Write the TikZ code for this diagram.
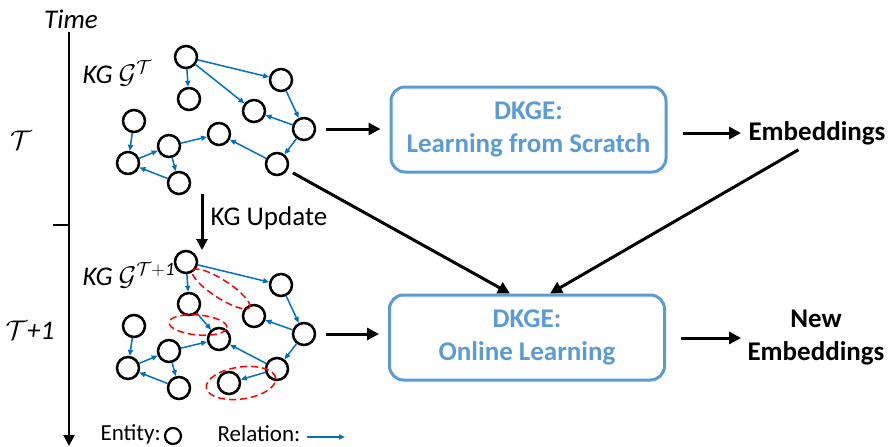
\RequirePackage{fix-cm}
\documentclass[tikz,border=0pt]{standalone}
\usepackage{fontspec}
\setmainfont{Carlito}
\usetikzlibrary{arrows.meta, positioning}
\definecolor{dkge_blue}{RGB}{91,155,213}
\definecolor{rel_blue}{RGB}{0,112,192}
\newcommand{\bigtext}{\fontsize{27}{33}\selectfont}

\tikzset{
  entity/.style={circle, draw=black, line width=2.5pt, minimum size=22pt, inner sep=0pt},
  rel/.style={rel_blue, line width=1.5pt, -{Triangle[length=6pt,width=5pt]}},
  flow/.style={line width=3pt, -{Triangle[length=12pt,width=12pt]}},
  dkgebox/.style={draw=dkge_blue, line width=3pt, rounded corners=14pt,
    minimum width=275pt, minimum height=85pt, align=center, text=dkge_blue, font=\bigtext\bfseries},
  removed/.style={red, line width=1.5pt, dash pattern=on 7pt off 4pt},
  legendtext/.style={anchor=west, font=\fontsize{23}{27}\selectfont}
}

\begin{document}
\begin{tikzpicture}[x=10pt, y=-10pt, font=\bigtext]

      \useasboundingbox (0,0) rectangle (88.9,44.7);

      % 1. Eje del tiempo
      \node (time) at (7.1,1.9) {\textit{Time}};
      \coordinate (axtop) at (6.9,3.2);
      \coordinate (axbot) at (6.9,44.6);
      \draw[line width=2.5pt, -{Triangle[length=11pt,width=11pt]}] (axtop) -- (axbot);
      \draw[line width=2.5pt] (5.3,22.5) -- (6.9,22.5);
      \node (tnow) at (2.1,14.0) {$\mathcal{T}$};
      \node (tnext) at (3.0,33.0) {$\mathcal{T}$\textit{+1}};

      % 2. KG en T
      \node[anchor=west] (kgold) at (7.9,7.3) {\textit{KG} $\mathcal{G}^{\mathcal{T}}$};
      \node[entity] (ta) at (18.6,5.7) {};
      \node[entity] (tb) at (18.9,9.9) {};
      \node[entity] (tc) at (28.1,8.0) {};
      \node[entity] (td) at (25.4,11.1) {};
      \node[entity] (te) at (30.4,12.9) {};
      \node[entity] (tf) at (27.7,16.4) {};
      \node[entity] (tg) at (21.9,13.4) {};
      \node[entity] (th) at (16.9,14.6) {};
      \node[entity] (ti) at (13.4,12.1) {};
      \node[entity] (tj) at (12.8,16.3) {};
      \node[entity] (tk) at (17.9,18.3) {};
      \draw[rel] (ta) edge (tc) edge (tb) edge (td);
      \draw[rel] (tc) edge (te);
      \draw[rel] (te) edge (td) edge (tf);
      \draw[rel] (tf) edge (tg);
      \draw[rel] (th) edge (tg) edge (tk);
      \draw[rel] (ti) edge (tj);
      \draw[rel] (tj) edge (th);
      \draw[rel] (tk) edge (tj);

      % 3. Actualizacion del KG
      \coordinate (updtop) at (20.2,19.4);
      \coordinate (updbot) at (20.2,25.0);
      \draw[flow, -{Triangle[length=11pt,width=11pt]}] (updtop) -- (updbot);
      \node[anchor=west] (upd) at (20.7,21.8) {KG Update};

      % 4. KG en T+1
      \node[anchor=west] (kgnew) at (7.9,27.5) {\textit{KG} $\mathcal{G}^{\mathcal{T}\mathit{+1}}$};
      \node[entity] (na) at (18.6,26.2) {};
      \node[entity] (nb) at (18.9,30.4) {};
      \node[entity] (nc) at (28.1,28.5) {};
      \node[entity] (nd) at (25.4,31.6) {};
      \node[entity] (ne) at (30.4,33.4) {};
      \node[entity] (nf) at (27.7,36.9) {};
      \node[entity] (ng) at (21.9,33.9) {};
      \node[entity] (nh) at (16.9,35.1) {};
      \node[entity] (ni) at (13.4,32.6) {};
      \node[entity] (nj) at (12.8,36.8) {};
      \node[entity] (nk) at (17.9,38.8) {};
      \node[entity] (nl) at (22.9,38.3) {};
      \draw[rel] (na) edge (nc) edge (nb);
      \draw[rel] (nb) edge (ng);
      \draw[rel] (nc) edge (ne);
      \draw[rel] (ne) edge (nd) edge (nf);
      \draw[rel] (nf) edge (ng) edge (nl);
      \draw[rel] (nh) edge (ng) edge (nk);
      \draw[rel] (ni) edge (nj);
      \draw[rel] (nj) edge (nh);
      \draw[rel] (nk) edge (nj);

      % cambios (elipses rojas)
      \draw[removed, shift={(22.1,28.9)}, rotate=-33] (0,0) ellipse (34pt and 9pt);
      \draw[removed, shift={(19.8,32.5)}, rotate=-5] (0,0) ellipse (29pt and 10pt);
      \draw[removed, shift={(24.1,38.3)}, rotate=8] (0,0) ellipse (35pt and 16pt);

      % 5. Cajas DKGE y salidas
      \node[dkgebox] (scratch) at (52.85,12.95) {DKGE:\\Learning from Scratch};
      \node[dkgebox] (online) at (52.7,33.75) {DKGE:\\Online Learning};
      \node (emb) at (81.7,13.3) {\textbf{Embeddings}};
      \node[align=center, font=\bigtext\bfseries] (newemb) at (81.6,33.8) {New\\Embeddings};

      \draw[flow, shorten <=10pt, shorten >=9pt] (te.east) -- (te.east -| scratch.west);
      \draw[flow, shorten <=15pt, shorten >=4pt] (scratch.east |- emb) -- (emb.west);
      \draw[flow, shorten <=6pt] (tf) -- ([xshift=-17pt]online.north);
      \draw[flow, shorten <=3pt] ([xshift=-16pt]emb.south) -- ([xshift=23pt]online.north);
      \draw[flow, shorten <=10pt, shorten >=9pt] (ne.east) -- (ne.east -| online.west);
      \draw[flow, shorten <=15pt, shorten >=3pt] (online.east |- newemb) -- (newemb.west);

      % 6. Leyenda
      \node[legendtext] (entlab) at (9.7,43.4) {Entity:};
      \node[entity, minimum size=16pt, line width=2.2pt] (entsym) at (17.3,43.6) {};
      \node[legendtext] (rellab) at (21.4,43.4) {Relation:};
      \coordinate (relstart) at (30.7,43.7);
      \coordinate (relend) at (34.5,43.7);
      \draw[rel] (relstart) -- (relend);

\end{tikzpicture}
\end{document}
